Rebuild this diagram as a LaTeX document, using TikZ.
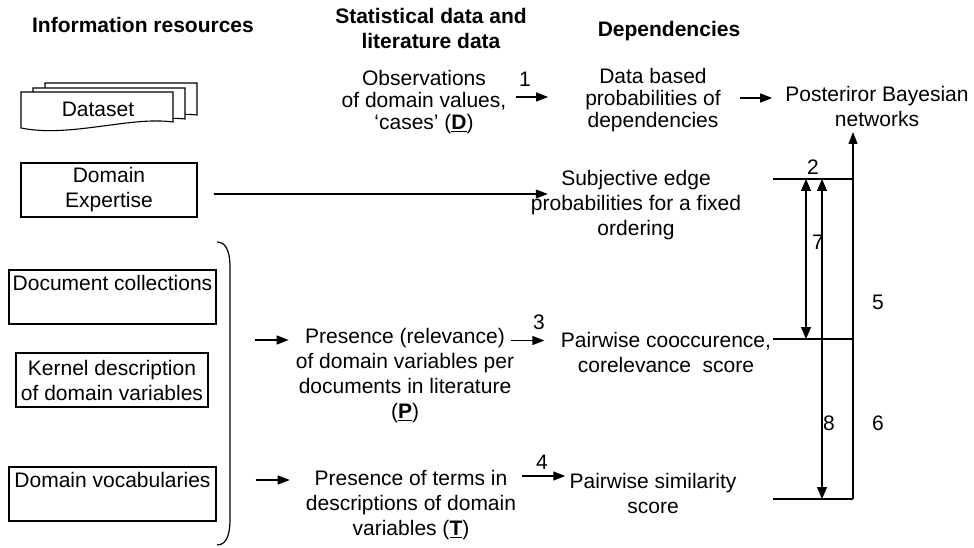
\documentclass[tikz,border=0pt]{standalone}
\usepackage{fontspec}
\setmainfont{Liberation Sans}
\usetikzlibrary{arrows.meta}
\begin{document}
\begin{tikzpicture}[x=1pt,y=-1pt,
  every node/.style={font=\fontsize{21}{25}\selectfont},
  txt/.style={align=center, inner sep=0pt},
  tight/.style={font=\fontsize{21}{22}\selectfont},
  hdr/.style={align=center, inner sep=0pt, font=\fontsize{21}{25}\selectfont\bfseries},
  box/.style={draw, line width=1.1pt, inner sep=0pt, minimum height=54pt, align=center},
  topbox/.style={draw, line width=1.1pt, inner xsep=3pt, inner ysep=0pt, minimum width=207pt, text height=20.5pt, text depth=33.5pt},
  num/.style={inner sep=0pt},
  ln/.style={line width=1.2pt},
  arr/.style={-{Triangle[length=12pt,width=9pt]}, line width=1.2pt},
  darr/.style={{Triangle[length=12pt,width=10pt]}-{Triangle[length=12pt,width=10pt]}, line width=1.2pt},
  doc/.style={draw, fill=white, line width=1.1pt}]
\useasboundingbox (0,0) rectangle (974,548);

% headers
\node[hdr] (h1) at (143,25) {Information resources};
\node[hdr] (h2) at (431,28) {Statistical data and\\literature data};
\node[hdr] (h3) at (669,31) {Dependencies};

% dataset stack
\path[doc] (45,83) -- (197,83) -- (197,115) .. controls (160,111) and (100,125) .. (45,120) -- cycle;
\path[doc] (33,88) -- (185,88) -- (185,119) .. controls (150,115) and (90,129) .. (33,124) -- cycle;
\path[doc] (21,92) -- (173,92) -- (173,122) .. controls (130,116) and (70,138) .. (21,128) -- cycle;
\node[txt] (ds) at (98,109) {Dataset};

% left boxes
\node[box, minimum width=176pt] (de) at (109,190) {Domain\\Expertise};
\node[topbox] (dc) at (112.5,297) {Document collections};
\node[box, minimum width=192pt] (kd) at (112,380) {Kernel description\\of domain variables};
\node[topbox] (dv) at (112.5,494) {Domain vocabularies};

% bracket
\draw[ln] (217,242) to[out=0,in=90] (230,268) -- (230,518) to[out=-90,in=0] (217,545);

% middle column
\node[txt, tight] (obs) at (424,102) {Observations\\of domain values,\\`cases' (\underline{\textbf{D}})};
\node[txt] (pres) at (405,376) {Presence (relevance)\\of domain variables per\\documents in literature\\(\underline{\textbf{P}})};
\node[txt] (terms) at (411,505) {Presence of terms in\\descriptions of domain\\variables (\underline{\textbf{T}})};

% dependencies column
\node[txt, tight] (data) at (653,100) {Data based\\probabilities of\\dependencies};
\node[txt] (subj) at (636,205) {Subjective edge\\probabilities for a fixed\\ordering};
\node[txt] (cooc) at (666,352) {Pairwise cooccurence,\\corelevance~ score};
\node[txt] (sim) at (653,493) {Pairwise similarity\\score};

% result
\node[txt] (post) at (877,106) {Posteriror Bayesian\\networks};

% arrows left/middle
\draw[arr] ([xshift=9pt,yshift=5pt]obs.east) -- ([xshift=-37pt,yshift=3pt]data.west);
\draw[arr] ([xshift=19pt,yshift=2pt]data.east) -- ([xshift=-13pt,yshift=8pt]post.west);
\draw[arr] ([xshift=16pt,yshift=-4pt]de.east) -- ([xshift=17pt,yshift=11pt]subj.west);
\draw[arr] ([xshift=-41pt,yshift=36pt]pres.west) -- ([xshift=-7pt,yshift=36pt]pres.west);
\draw[arr] ([xshift=-50pt,yshift=25pt]terms.west) -- ([xshift=-16pt,yshift=25pt]terms.west);
\draw[arr] ([xshift=-3pt,yshift=-12pt]pres.north east) -- ++(33,0);
\draw[arr] ([xshift=6pt,yshift=-6pt]terms.north east) -- ++(43,0);

% right junctions
\coordinate (j2) at (853,179);
\coordinate (j3) at (853,339);
\coordinate (j4) at (853,499);
\coordinate (ptip) at (853,132);
\draw[arr] (j4) -- (ptip);
\draw[ln] (j2) -- ++(-80,0);
\draw[ln] (j3) -- ++(-80,0);
\draw[ln] (j4) -- ++(-80,0);
\draw[darr] ([xshift=-47pt]j2) -- ([xshift=-47pt]j3);
\draw[darr] ([xshift=-31pt]j2) -- ([xshift=-31pt]j4);

% numbers
\node[num] (n1) at (525,79) {1};
\node[num] (n2) at (813,167) {2};
\node[num] (n3) at (539,322) {3};
\node[num] (n4) at (542,462) {4};
\node[num] (n5) at (878,302) {5};
\node[num] (n6) at (878,423) {6};
\node[num] (n7) at (818,242) {7};
\node[num] (n8) at (829,423) {8};
\end{tikzpicture}
\end{document}
